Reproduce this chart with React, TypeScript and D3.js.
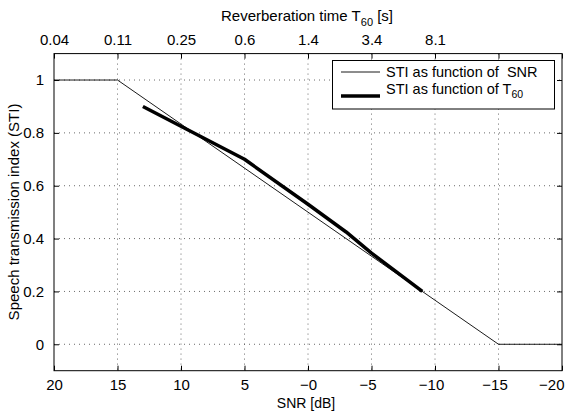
import React, { useEffect, useRef } from "react";
import * as d3 from "d3";

// bottom axis: SNR in dB (reversed)
const snrTicks = [20, 15, 10, 5, 0, -5, -10, -15, -20];
const snrTickLabels = ["20", "15", "10", "5", "\u22120", "\u22125", "\u221210", "\u221215", "\u221220"];
// top axis: reverberation time T60 [s] at the same positions
const t60TickLabels = ["0.04", "0.11", "0.25", "0.6", "1.4", "3.4", "8.1", "", ""];
const stiTicks = [0, 0.2, 0.4, 0.6, 0.8, 1];

// STI as function of SNR
const snrLineX = [20, 15, -15, -20];
const snrLineY = [1, 1, 0, 0];

// STI as function of T60 (plotted at equivalent SNR)
const t60LineX = [13, 5, 0, -3, -5, -9];
const t60LineY = [0.9, 0.7, 0.53, 0.425, 0.345, 0.2];

const App = () => {
  const ref = useRef<SVGSVGElement>(null);

  useEffect(() => {
    const svg = d3.select(ref.current);
    svg.selectAll("*").remove();
    const font = "'Liberation Sans', Arial, Helvetica, sans-serif";
    const fs = 15;

    const left = 54, right = 562, top = 53.6, bottom = 370.7;

    const x = d3.scaleLinear().domain([20, -20]).range([left, right]);
    const y = d3.scaleLinear().domain([-0.1, 1.1]).range([bottom, top]);

    // grid
    const grid = svg.append("g").attr("stroke", "#444").attr("stroke-width", 0.8)
      .attr("stroke-dasharray", "1,4");
    grid.selectAll("line.v").data(snrTicks.slice(1, -1)).join("line")
      .attr("x1", (d) => x(d)).attr("x2", (d) => x(d))
      .attr("y1", top).attr("y2", bottom);
    grid.selectAll("line.h").data(stiTicks).join("line")
      .attr("class", "h")
      .attr("y1", (d) => y(d)).attr("y2", (d) => y(d))
      .attr("x1", left).attr("x2", right);

    // axes
    const styleAxis = (g) => {
      g.select(".domain").remove();
      g.selectAll("text").attr("font-family", font).attr("font-size", fs).attr("fill", "#000");
      g.selectAll("line").attr("stroke", "#000");
    };

    const bottomAxis = svg.append("g").attr("transform", `translate(0,${bottom})`)
      .call(d3.axisBottom(x).tickValues(snrTicks).tickSize(-5).tickSizeOuter(0)
        .tickPadding(9).tickFormat((d, i) => snrTickLabels[i]))
      .call(styleAxis);
    // minus-signed labels sit a little left; the last one is kept inside the figure
    bottomAxis.selectAll("text").attr("dx", (d) => (d < 0 ? -4 : 0));
    bottomAxis.selectAll("text").filter((d) => d === -20)
      .attr("text-anchor", "end").attr("dx", 2);

    svg.append("g").attr("transform", `translate(0,${top})`)
      .call(d3.axisTop(x).tickValues(snrTicks).tickSize(-5).tickSizeOuter(0)
        .tickPadding(9).tickFormat((d, i) => t60TickLabels[i]))
      .call(styleAxis);

    svg.append("g").attr("transform", `translate(${left},0)`)
      .call(d3.axisLeft(y).tickValues(stiTicks).tickSize(-5).tickSizeOuter(0)
        .tickPadding(10).tickFormat(d3.format("~g")))
      .call(styleAxis);

    svg.append("g").attr("transform", `translate(${right},0)`)
      .call(d3.axisRight(y).tickValues(stiTicks).tickSize(-5).tickSizeOuter(0).tickFormat(() => ""))
      .call(styleAxis);

    // box
    svg.append("rect").attr("x", left).attr("y", top)
      .attr("width", right - left).attr("height", bottom - top)
      .attr("fill", "none").attr("stroke", "#000").attr("stroke-width", 1);

    // lines
    const line = d3.line<number>().x((d) => x(d[0])).y((d) => y(d[1]));
    svg.append("path")
      .datum(snrLineX.map((v, i) => [v, snrLineY[i]]))
      .attr("d", line).attr("fill", "none").attr("stroke", "#000").attr("stroke-width", 0.9);
    svg.append("path")
      .datum(t60LineX.map((v, i) => [v, t60LineY[i]]))
      .attr("d", line).attr("fill", "none").attr("stroke", "#000").attr("stroke-width", 3.5)
      .attr("stroke-linejoin", "round");

    // labels
    const title = svg.append("text").attr("x", 307).attr("y", 21).attr("text-anchor", "middle")
      .attr("font-family", font).attr("font-size", fs);
    title.append("tspan").text("Reverberation time T");
    title.append("tspan").attr("font-size", 11).attr("dy", 5).text("60");
    title.append("tspan").attr("dy", -5).text(" [s]");

    svg.append("text").attr("x", 306).attr("y", 408).attr("text-anchor", "middle")
      .attr("font-family", font).attr("font-size", 14).text("SNR [dB]");

    svg.append("text").attr("transform", "translate(19,212) rotate(-90)")
      .attr("text-anchor", "middle").attr("font-family", font).attr("font-size", fs)
      .text("Speech transmission index (STI)");

    // legend
    const lfs = 14.5;
    const lg = svg.append("g");
    lg.append("rect").attr("x", 332.5).attr("y", 60.5).attr("width", 222).attr("height", 48.5)
      .attr("fill", "#fff").attr("stroke", "#000").attr("stroke-width", 1);
    lg.append("line").attr("x1", 341).attr("x2", 380).attr("y1", 72).attr("y2", 72)
      .attr("stroke", "#000").attr("stroke-width", 0.9);
    lg.append("line").attr("x1", 341).attr("x2", 380).attr("y1", 96).attr("y2", 96)
      .attr("stroke", "#000").attr("stroke-width", 3.5);
    lg.append("text").attr("x", 386).attr("y", 77).attr("font-family", font).attr("font-size", lfs)
      .text("STI as function of\u00a0 SNR");
    const t2 = lg.append("text").attr("x", 386).attr("y", 94).attr("font-family", font).attr("font-size", lfs);
    t2.append("tspan").text("STI as function of T");
    t2.append("tspan").attr("font-size", 10.5).attr("dy", 4).text("60");
  }, []);

  return (
    <svg ref={ref} width={572} height={411}
      style={{ position: "absolute", left: 0, top: 0, background: "#fff" }} />
  );
};

export default App;
